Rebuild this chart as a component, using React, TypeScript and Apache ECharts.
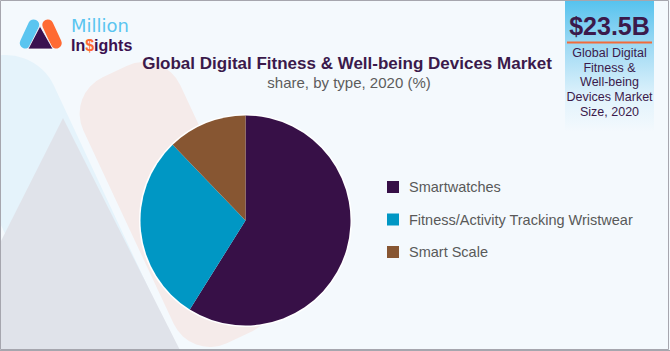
import React, { useEffect, useRef } from "react";
import * as echarts from "echarts";

const categories = ["Smartwatches", "Fitness/Activity Tracking Wristwear", "Smart Scale"];
const shares = [58.9, 28.9, 12.2];
const colors = ["#371047", "#0097c4", "#875632"];
const titleText = "Global Digital Fitness & Well-being Devices Market";
const subtitleText = "share, by type, 2020 (%)";
const marketValue = "$23.5B";
const marketLabel = ["Global Digital", "Fitness &", "Well-being", "Devices Market", "Size, 2020"];

const deg = Math.PI / 180;

export default function App() {
  const ref = useRef<HTMLDivElement>(null);
  useEffect(() => {
    if (!ref.current) return;
    const chart = echarts.init(ref.current, undefined, { renderer: "svg" });
    const dark = "#3b1a4b";
    const graphic: any[] = [
      // background decorative shapes
      {
        type: "rect", z: 0, x: 71.8, y: 250.3, rotation: 25 * deg,
        shape: { x: -53.5, y: -210, width: 107, height: 420, r: 53.5 },
        style: { fill: "#e5f3fb" }, silent: true,
      },
      {
        type: "rect", z: 0, x: 177, y: 204.5, rotation: 25 * deg,
        shape: { x: -53.5, y: -146.75, width: 107, height: 293.5, r: 40 },
        style: { fill: "#f5ebea" }, silent: true,
      },
      {
        type: "polygon", z: 0,
        shape: { points: [[63, 118], [-70, 382], [196, 382]] },
        style: { fill: "#e0e3ea" }, silent: true,
      },
      // top-right box
      {
        type: "rect", z: 1, shape: { x: 565, y: 0, width: 89, height: 132 },
        style: {
          fill: new echarts.graphic.LinearGradient(0, 0, 0, 1, [
            { offset: 0, color: "#55c2ee" },
            { offset: 0.35, color: "#9fdaf4" },
            { offset: 0.75, color: "#e2f3fc" },
            { offset: 1, color: "#f4f9fd" },
          ]),
        },
        silent: true,
      },
      {
        type: "text", z: 2, x: 609.5, y: 26,
        style: {
          text: marketValue, fill: dark, font: "bold 25px 'Liberation Sans', Arial, sans-serif",
          textAlign: "center", textVerticalAlign: "middle",
        },
      },
      {
        type: "rect", z: 2, shape: { x: 567, y: 41.5, width: 85, height: 2 },
        style: { fill: "#f26b3a" },
      },
      ...marketLabel.map((t, i) => ({
        type: "text", z: 2, x: 609.5, y: 53 + i * 14.7,
        style: {
          text: t, fill: dark, font: "12.5px 'Liberation Sans', Arial, sans-serif",
          textAlign: "center", textVerticalAlign: "middle",
        },
      })),
      // logo
      {
        type: "rect", z: 2, x: 29.5, y: 34, rotation: -25 * deg,
        shape: { x: -5.5, y: -15.5, width: 11, height: 31, r: 5.5 },
        style: { fill: "#5bc5f0" },
      },
      {
        type: "rect", z: 2, x: 52, y: 34, rotation: 25 * deg,
        shape: { x: -5.5, y: -15.5, width: 11, height: 31, r: 5.5 },
        style: { fill: "#ff6a33" },
      },
      {
        type: "polygon", z: 3,
        shape: { points: [[40, 26], [28, 49], [53, 49]] },
        style: { fill: "#3b1150", stroke: "#ffffff", lineWidth: 0.8 },
      },
      {
        type: "text", z: 2, x: 71, y: 25.5,
        style: {
          text: "Million", fill: "#5bc5f0", font: "400 18px 'DejaVu Sans', sans-serif",
          textVerticalAlign: "middle", lineHeight: 18,
        },
      },
      {
        type: "text", z: 2, x: 71, y: 45,
        style: {
          text: "In{o|$}ights", fill: "#3b1150", font: "bold 16px 'Liberation Sans', sans-serif",
          textVerticalAlign: "middle", lineHeight: 16,
          rich: { o: { fill: "#ff6a33", font: "bold 16px 'Liberation Sans', sans-serif", lineHeight: 16 } },
        },
      },
      // titles
      {
        type: "text", z: 2, x: 347, y: 63,
        style: {
          text: titleText, fill: dark, font: "bold 17px 'Liberation Sans', Arial, sans-serif",
          textAlign: "center", textVerticalAlign: "middle",
        },
      },
      {
        type: "text", z: 2, x: 349, y: 82,
        style: {
          text: subtitleText, fill: "#5c5c5c", font: "15px 'Liberation Sans', Arial, sans-serif",
          textAlign: "center", textVerticalAlign: "middle",
        },
      },
      // border
      {
        type: "rect", z: 10, shape: { x: 0.5, y: 0.5, width: 668, height: 349 },
        style: { fill: "none", stroke: "#a6a6ae", lineWidth: 1 }, silent: true,
      },
      {
        type: "line", z: 10, shape: { x1: 0, y1: 350.5, x2: 670, y2: 350.5 },
        style: { stroke: "#a6a6ae", lineWidth: 1 }, silent: true,
      },
    ];

    chart.setOption({
      animation: false,
      backgroundColor: "#f4f9fd",
      color: colors,
      graphic,
      legend: {
        orient: "vertical",
        left: 382,
        top: 174.5,
        itemWidth: 12,
        itemHeight: 12,
        itemGap: 17.5,
        icon: "rect",
        data: categories,
        textStyle: {
          color: "#595959",
          fontSize: 14.5,
          fontFamily: "'Liberation Sans', Arial, sans-serif",
          padding: [0, 0, 0, 5],
        },
      },
      series: [
        {
          type: "pie",
          silent: true,
          z: 1,
          center: [245.5, 220.5],
          radius: [0, 106.5],
          label: { show: false },
          labelLine: { show: false },
          data: [{ value: 1, name: "_halo", itemStyle: { color: "#ffffff" } }],
        },
        {
          type: "pie",
          z: 2,
          center: [245.5, 220.5],
          radius: [0, 105],
          startAngle: 90,
          clockwise: true,
          label: { show: false },
          labelLine: { show: false },
          itemStyle: { borderWidth: 0 },
          data: categories.map((name, i) => ({ name, value: shares[i] })),
        },
      ],
    });
    return () => chart.dispose();
  }, []);
  return (
    <div
      ref={ref}
      style={{ position: "absolute", left: 0, top: 0, width: 670, height: 351 }}
    />
  );
}
